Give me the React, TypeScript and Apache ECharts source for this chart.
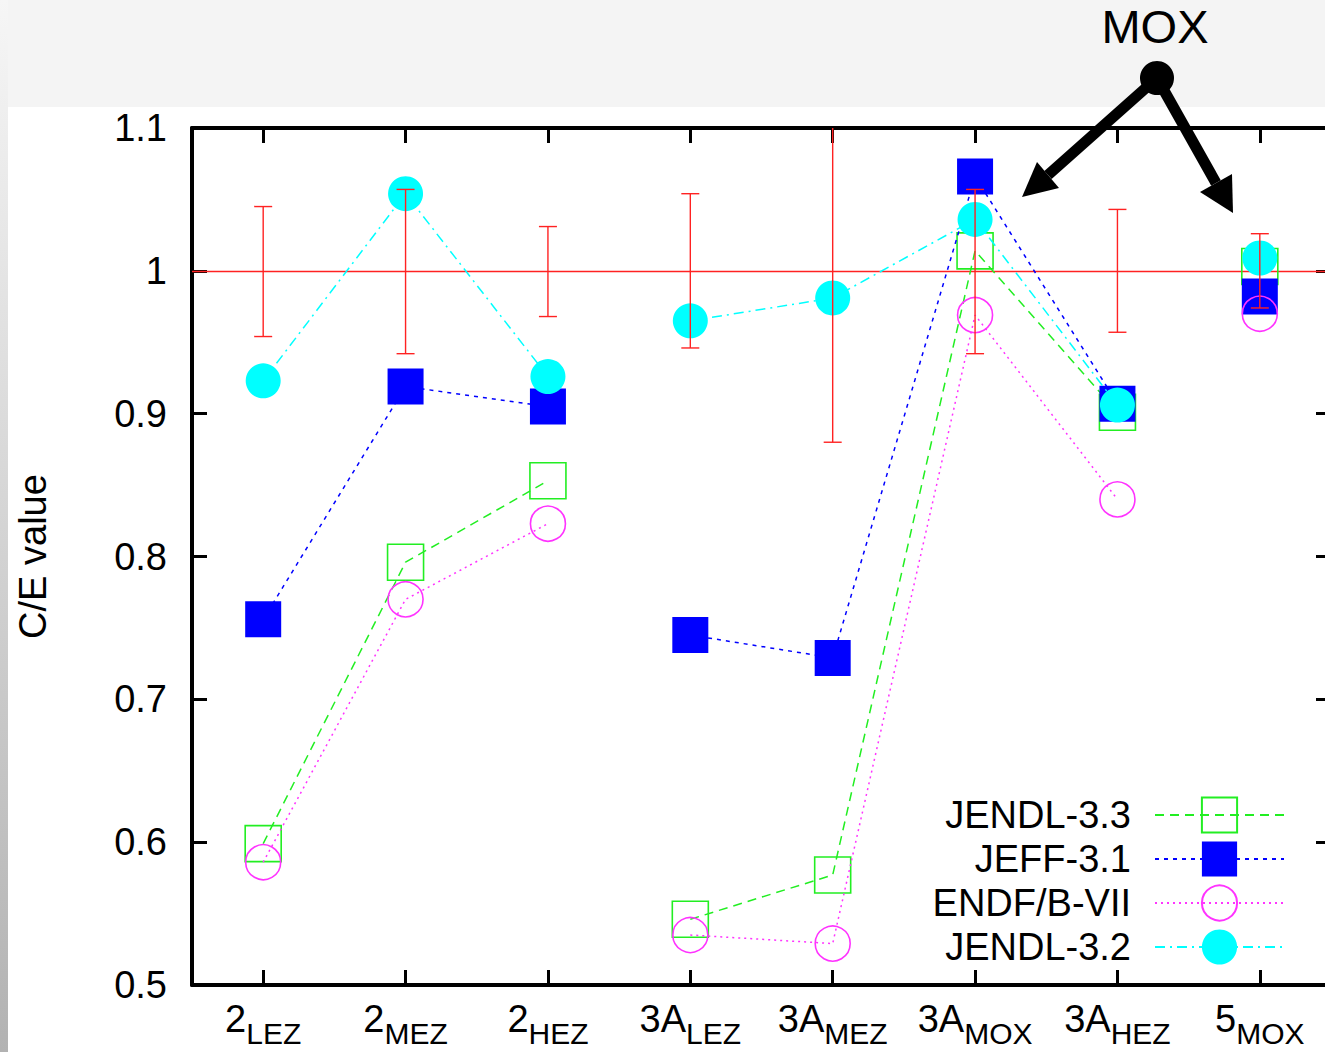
import React, { useEffect, useRef } from "react";
import * as echarts from "echarts";

const catMain = ["2", "2", "2", "3A", "3A", "3A", "3A", "5"];
const catSub = ["LEZ", "MEZ", "HEZ", "LEZ", "MEZ", "MOX", "HEZ", "MOX"];
const categories = catMain.map((m, i) => m + "_" + catSub[i]);

const jendl33 = [0.599, 0.796, 0.853, 0.546, 0.577, 1.014, 0.901, 1.003];
const jeff31 = [0.756, 0.919, 0.905, 0.745, 0.729, 1.066, 0.907, 0.982];
const endf7 = [0.586, 0.770, 0.823, 0.535, 0.529, 0.969, 0.840, 0.970];
const jendl32 = [0.923, 1.054, 0.926, 0.965, 0.981, 1.036, 0.906, 1.009];

const errLow = [0.954, 0.942, 0.968, 0.946, 0.880, 0.942, 0.957, 0.974];
const errHigh = [1.045, 1.057, 1.031, 1.054, 1.12, 1.057, 1.043, 1.026];

const yTicks = [0.5, 0.6, 0.7, 0.8, 0.9, 1.0, 1.1];

// line segments: groups of category indices connected by lines
const segments = [[0, 1, 2, 7], [3, 4, 5, 6]];

const FONT = "'Liberation Sans', Arial, Helvetica, sans-serif";
const CHART_W = 1340;

type DS = {
  name: string;
  values: number[];
  color: string;
  symbol: string;
  size: number;
  filled: boolean;
  dash: number[];
  z: number;
};

const datasets: DS[] = [
  { name: "JENDL-3.3", values: jendl33, color: "#22ee22", symbol: "rect", size: 36, filled: false, dash: [9, 6], z: 3 },
  { name: "JEFF-3.1", values: jeff31, color: "#0000ff", symbol: "rect", size: 36, filled: true, dash: [4, 5], z: 4 },
  { name: "ENDF/B-VII", values: endf7, color: "#ff33ff", symbol: "circle", size: 35, filled: false, dash: [2, 4], z: 5 },
  { name: "JENDL-3.2", values: jendl32, color: "#00ffff", symbol: "circle", size: 35, filled: true, dash: [10, 5, 2, 5], z: 6 },
];

function buildSeries() {
  const out: any[] = [];
  datasets.forEach((d) => {
    segments.forEach((seg) => {
      out.push({
        name: d.name,
        type: "line",
        z: d.z,
        data: d.values.map((v, i) => (seg.indexOf(i) >= 0 ? v : "-")),
        connectNulls: false,
        symbol: d.symbol,
        symbolSize: d.size,
        showSymbol: true,
        showAllSymbol: true,
        lineStyle: { color: d.color, width: 1.5, type: d.dash },
        itemStyle: d.filled
          ? { color: d.color, borderWidth: 0 }
          : { color: "rgba(255,255,255,0)", borderColor: d.color, borderWidth: 1.6 },
        emphasis: { disabled: true },
      });
    });
  });
  out.push({
    name: "err",
    type: "custom",
    z: 10,
    clip: true,
    data: errLow.map((lo, i) => [i, lo, errHigh[i]]),
    renderItem: (params: any, api: any) => {
      const x = api.value(0);
      const lo = api.coord([x, api.value(1)]);
      const hi = api.coord([x, api.value(2)]);
      const cap = 9;
      const style = { stroke: "#ff2222", lineWidth: 1.4 };
      return {
        type: "group",
        children: [
          { type: "line", shape: { x1: lo[0], y1: lo[1], x2: hi[0], y2: hi[1] }, style },
          { type: "line", shape: { x1: lo[0] - cap, y1: lo[1], x2: lo[0] + cap, y2: lo[1] }, style },
          { type: "line", shape: { x1: hi[0] - cap, y1: hi[1], x2: hi[0] + cap, y2: hi[1] }, style },
        ],
      };
    },
    markLine: {
      silent: true,
      symbol: "none",
      z: 1,
      label: { show: false },
      lineStyle: { color: "#ff2222", width: 1.3, type: "solid" },
      data: [{ yAxis: 1 }],
    },
  });
  return out;
}

export default function App() {
  const ref = useRef<HTMLDivElement>(null);
  useEffect(() => {
    if (!ref.current) return;
    const chart = echarts.init(ref.current, null, { renderer: "svg" });
    const tickStyle = { show: true, inside: true, length: 15, lineStyle: { color: "#000", width: 3 } };
    const axisLine = { show: true, lineStyle: { color: "#000", width: 4 } };
    chart.setOption({
      animation: false,
      backgroundColor: "transparent",
      textStyle: { fontFamily: FONT },
      grid: { left: 192, top: 128, bottom: 67, right: CHART_W - 1331, containLabel: false },
      legend: {
        orient: "vertical",
        align: "right",
        right: CHART_W - 1285,
        top: 796,
        padding: 0,
        itemWidth: 129,
        itemHeight: 44,
        itemGap: 6,
        data: datasets.map((d) => d.name),
        textStyle: { fontSize: 38, color: "#000", fontFamily: FONT, padding: [0, 19, 0, 0] },
        selectedMode: false,
      },
      xAxis: [
        {
          type: "category",
          data: categories,
          position: "bottom",
          boundaryGap: true,
          axisLine,
          axisTick: { ...tickStyle, alignWithLabel: true },
          axisLabel: {
            margin: 15,
            interval: 0,
            formatter: (v: string) => {
              const [m, s] = v.split("_");
              return "{a|" + m + "}{b|" + s + "}";
            },
            rich: {
              a: { fontSize: 38, fontFamily: FONT, color: "#000", verticalAlign: "bottom", padding: [0, 0, 10, 0] },
              b: { fontSize: 30, fontFamily: FONT, color: "#000", verticalAlign: "bottom" },
            },
          },
          splitLine: { show: false },
        },
        {
          type: "category",
          data: categories,
          position: "top",
          boundaryGap: true,
          axisLine,
          axisTick: { ...tickStyle, alignWithLabel: true },
          axisLabel: { show: false },
          splitLine: { show: false },
        },
      ],
      yAxis: [
        {
          type: "value",
          min: 0.5,
          max: 1.1,
          interval: 0.1,
          position: "left",
          name: "C/E value",
          nameLocation: "middle",
          nameGap: 140,
          nameRotate: 90,
          nameTextStyle: { fontSize: 38, color: "#000", fontFamily: FONT },
          axisLine,
          axisTick: tickStyle,
          axisLabel: {
            margin: 25,
            fontSize: 38,
            color: "#000",
            fontFamily: FONT,
            formatter: (v: number) => {
              const r = Math.round(v * 10) / 10;
              const t = yTicks.find((y) => Math.abs(y - r) < 1e-9);
              return t === undefined ? "" : String(t);
            },
          },
          splitLine: { show: false },
        },
        {
          type: "value",
          min: 0.5,
          max: 1.1,
          interval: 0.1,
          position: "right",
          axisLine,
          axisTick: tickStyle,
          axisLabel: { show: false },
          splitLine: { show: false },
        },
      ],
      graphic: [
        {
          type: "text",
          z: 100,
          x: 1155,
          y: 26,
          style: { text: "MOX", fontSize: 47, fontFamily: FONT, fill: "#000", align: "center", verticalAlign: "middle" },
        },
        { type: "line", z: 100, shape: { x1: 1157, y1: 78, x2: 1048, y2: 175 }, style: { stroke: "#000", lineWidth: 11 } },
        { type: "line", z: 100, shape: { x1: 1157, y1: 78, x2: 1216, y2: 183 }, style: { stroke: "#000", lineWidth: 11 } },
        { type: "polygon", z: 100, shape: { points: [[1022, 197], [1037, 162], [1059, 188]] }, style: { fill: "#000" } },
        { type: "polygon", z: 100, shape: { points: [[1233, 213], [1200, 192], [1232, 174]] }, style: { fill: "#000" } },
        { type: "circle", z: 101, shape: { cx: 1157, cy: 78, r: 17 }, style: { fill: "#000" } },
      ],
      series: buildSeries(),
    });
    return () => chart.dispose();
  }, []);
  return (
    <div
      style={{
        position: "absolute",
        left: 0,
        top: 0,
        width: 1325,
        height: 1052,
        overflow: "hidden",
        background:
          "linear-gradient(#ffffff,#ffffff) 8px 107px / 1317px 945px no-repeat, linear-gradient(to bottom, #f6f6f6, #b2b2b2) 0 0 / 8px 100% no-repeat, #f4f4f4",
      }}
    >
      <div ref={ref} style={{ width: CHART_W, height: 1052 }} />
    </div>
  );
}
